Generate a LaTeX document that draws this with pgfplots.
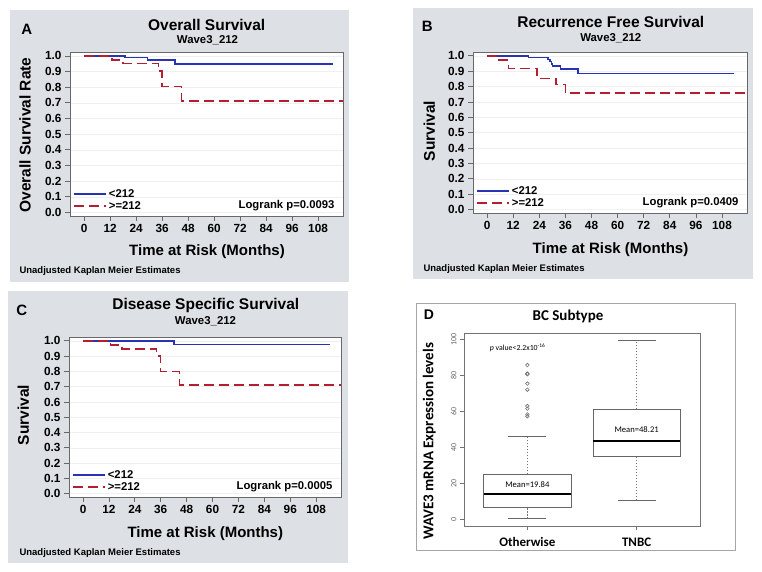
\documentclass[border=0pt]{standalone}
\usepackage{fontspec}
\setmainfont{Liberation Sans}
\newfontfamily\calib{Carlito}
\usepackage{pgfplots}
\pgfplotsset{compat=1.18}
\definecolor{bgc}{RGB}{221,224,228}
\definecolor{kmblue}{RGB}{40,50,180}
\definecolor{kmred}{RGB}{180,30,50}
\definecolor{frm}{RGB}{105,105,105}
\newcommand{\fs}[1]{\fontsize{#1}{#1}\selectfont}
\pgfplotsset{
  km/.style={
    scale only axis, anchor=south west,
    xmin=-6.5, xmax=119.5, ymin=-0.022, ymax=1.025,
    xtick={0,12,24,36,48,60,72,84,96,108},
    ytick={0,0.1,0.2,0.3,0.4,0.5,0.6,0.7,0.8,0.9,1},
    yticklabel style={/pgf/number format/.cd, fixed, fixed zerofill, precision=1},
    /pgf/number format/assume math mode=true,
    tick label style={font=\bfseries\fs{11.8}},
    axis line style={frm, line width=0.8pt},
    tick style={frm, line width=0.8pt},
    major tick length=5pt, tick align=outside,
    xtick pos=bottom, ytick pos=left,
    ymajorgrids, grid style={black!6, line width=0.5pt},
    axis background/.style={fill=white},
    legend image code/.code={\draw[##1] (0pt,0pt) -- (32pt,0pt);},
    legend style={draw=none, fill=none, at={(axis description cs:0,0)}, anchor=south west,
      font=\bfseries\fs{11.3}, inner sep=0pt, row sep=-1.5pt, xshift=3pt, yshift=3pt},
    legend cell align=left,
  },
  blueS/.style={kmblue, line width=1.5pt, const plot},
  redS/.style={kmred, line width=1.7pt, const plot, dash pattern=on 10pt off 5pt},
  boxS/.style={draw=black!60, line width=0.7pt, fill=white},
  medS/.style={black, line width=1.8pt},
  whS/.style={black!55, line width=0.6pt, dash pattern=on 1.5pt off 1.5pt},
  capS/.style={black!60, line width=0.7pt},
}
\begin{document}
\begin{tikzpicture}
\path[fill=white, use as bounding box] (0pt,0pt) rectangle (762pt,572pt);
% ---------------- Panel A
\fill[bgc] (10pt,290pt) rectangle (349pt,562pt);
\begin{axis}[km, at={(70pt,356pt)}, width=273pt, height=164pt]
\addplot[blueS] coordinates {(0,1)(18.9,0.99)(29.2,0.975)(41.9,0.948)(114.9,0.948)};
\addplot[redS] coordinates {(0,1)(12.8,0.976)(17.8,0.952)(34.3,0.903)(35.8,0.805)(45,0.714)(119.5,0.714)};
\legend{{<212},{>=212}}
\node[anchor=east, font=\bfseries\fs{11.3}, xshift=-5pt, yshift=10pt] at (axis description cs:1,0) {Logrank p=0.0093};
\end{axis}
\node[font=\bfseries\fs{15.5}] at (206.7pt,547pt) {Overall Survival};
\node[font=\bfseries\fs{11.4}] at (207.5pt,531.3pt) {Wave3\_212};
\node[font=\bfseries\fs{15}] at (26.7pt,542.3pt) {A};
\node[rotate=90, font=\bfseries\fs{15.5}] at (25pt,437pt) {Overall Survival Rate};
\node[font=\bfseries\fs{15}] at (207pt,320pt) {Time at Risk (Months)};
\node[anchor=west, font=\bfseries\fs{9.5}] at (16pt,301pt) {Unadjusted Kaplan Meier Estimates};
% ---------------- Panel B
\fill[bgc] (413pt,293pt) rectangle (753pt,564pt);
\begin{axis}[km, at={(473pt,359pt)}, width=274pt, height=161pt]
\addplot[blueS] coordinates {(0,1)(19,0.989)(28,0.975)(28.8,0.962)(29.5,0.948)(30,0.935)(33.7,0.915)(41.7,0.885)(113.6,0.885)};
\addplot[redS] coordinates {(0,1)(5.6,0.973)(9.8,0.918)(23,0.853)(31.7,0.813)(36,0.758)(119.5,0.758)};
\legend{{<212},{>=212}}
\node[anchor=east, font=\bfseries\fs{11.3}, xshift=-5pt, yshift=10pt] at (axis description cs:1,0) {Logrank p=0.0409};
\end{axis}
\node[font=\bfseries\fs{15.5}] at (610.8pt,549.7pt) {Recurrence Free Survival};
\node[font=\bfseries\fs{11.4}] at (610.8pt,533.7pt) {Wave3\_212};
\node[font=\bfseries\fs{15}] at (427.3pt,545.3pt) {B};
\node[rotate=90, font=\bfseries\fs{15.5}] at (429.3pt,441pt) {Survival};
\node[font=\bfseries\fs{15}] at (610.5pt,322pt) {Time at Risk (Months)};
\node[anchor=west, font=\bfseries\fs{9.5}] at (420pt,302.7pt) {Unadjusted Kaplan Meier Estimates};
% ---------------- Panel C
\fill[bgc] (8pt,9pt) rectangle (348pt,281pt);
\begin{axis}[km, at={(69pt,75pt)}, width=272pt, height=160pt]
\addplot[blueS] coordinates {(0,1)(42.2,0.975)(114.4,0.975)};
\addplot[redS] coordinates {(0,1)(12.7,0.972)(18,0.947)(34,0.9)(35.9,0.8)(44.7,0.713)(119.5,0.713)};
\legend{{<212},{>=212}}
\node[anchor=east, font=\bfseries\fs{11.3}, xshift=-5pt, yshift=10pt] at (axis description cs:1,0) {Logrank p=0.0005};
\end{axis}
\node[font=\bfseries\fs{15.5}] at (205.8pt,266.3pt) {Disease Specific Survival};
\node[font=\bfseries\fs{11.4}] at (205.5pt,250.3pt) {Wave3\_212};
\node[font=\bfseries\fs{15}] at (21.7pt,262pt) {C};
\node[rotate=90, font=\bfseries\fs{15.5}] at (23.3pt,157pt) {Survival};
\node[font=\bfseries\fs{15}] at (205.3pt,38.7pt) {Time at Risk (Months)};
\node[anchor=west, font=\bfseries\fs{9.5}] at (16pt,19.3pt) {Unadjusted Kaplan Meier Estimates};
% ---------------- Panel D
\draw[black!35, line width=0.8pt, fill=white] (416pt,22pt) rectangle (735pt,269pt);
\begin{axis}[scale only axis, anchor=south west, at={(464pt,46pt)}, width=236pt, height=193pt,
  xmin=0.42, xmax=2.58, ymin=-3.7, ymax=103.5,
  xtick={1,2}, xticklabels={Otherwise,TNBC},
  ytick={0,20,40,60,80,100},
  xtick pos=bottom, ytick pos=left, tick align=outside, major tick length=4pt,
  axis line style={black!55, line width=0.7pt}, tick style={black!55, line width=0.6pt},
  /pgf/number format/assume math mode=true,
  xticklabel style={font=\calib\bfseries\fs{13}, yshift=-4pt},
  yticklabel style={rotate=90, anchor=south, font=\calib\fs{8}, text=black!60},
]
% Otherwise: whiskers, caps, box, median
\addplot[whS] coordinates {(1,0.3)(1,6.8)};
\addplot[whS] coordinates {(1,25)(1,46.3)};
\addplot[capS] coordinates {(0.825,0.3)(1.175,0.3)};
\addplot[capS] coordinates {(0.825,46.3)(1.175,46.3)};
\addplot[boxS] coordinates {(0.6,6.8)(1.4,6.8)(1.4,25)(0.6,25)} -- cycle;
\addplot[medS] coordinates {(0.6,13.9)(1.4,13.9)};
% TNBC
\addplot[whS] coordinates {(2,10.7)(2,34.8)};
\addplot[whS] coordinates {(2,61.1)(2,99.6)};
\addplot[capS] coordinates {(1.825,10.7)(2.175,10.7)};
\addplot[capS] coordinates {(1.825,99.6)(2.175,99.6)};
\addplot[boxS] coordinates {(1.6,34.8)(2.4,34.8)(2.4,61.1)(1.6,61.1)} -- cycle;
\addplot[medS] coordinates {(1.6,43.3)(2.4,43.3)};
% outliers
\addplot[only marks, mark=o, mark size=1.8pt, black!55, mark options={line width=0.6pt}] coordinates {(1,85.7)(1,81.0)(1,80.6)(1,75.4)(1,72.0)(1,62.9)(1,61.5)(1,58.3)(1,57.3)};
\node[font=\calib\fs{8.6}] at (axis cs:1,19.4) {Mean=19.84};
\node[font=\calib\fs{8.6}] at (axis cs:2,49.6) {Mean=48.21};
\node[anchor=west, font=\calib\fs{7.8}] at (axis cs:0.625,95.5) {\textit{p} value<2.2x10\textsuperscript{-16}};
\end{axis}
\node[font=\calib\bfseries\fs{15}] at (568pt,255.3pt) {BC Subtype};
\node[font=\bfseries\fs{14}] at (429pt,257pt) {D};
\node[rotate=90, font=\calib\bfseries\fs{15}] at (429.3pt,130.7pt) {WAVE3 mRNA Expression levels};
\end{tikzpicture}
\end{document}
